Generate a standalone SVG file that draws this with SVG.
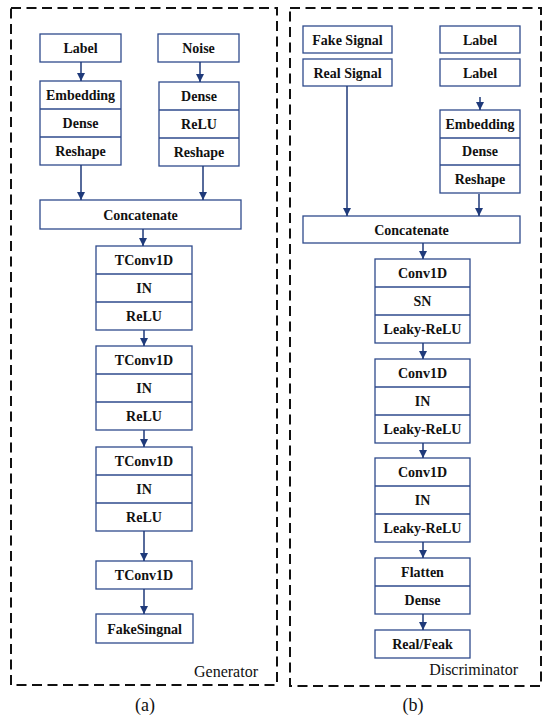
<svg xmlns="http://www.w3.org/2000/svg" width="550" height="719" viewBox="0 0 550 719">
<style>
.frame{fill:none;stroke:#111;stroke-width:2;stroke-dasharray:10 5.5}
.box{fill:#fff;stroke:#2e4a8c;stroke-width:1.3}
.div{stroke:#2e4a8c;stroke-width:1.3}
.t{font-family:"Liberation Serif","Times New Roman",serif;font-weight:bold;font-size:14px;text-anchor:middle;fill:#111}
.cap{font-family:"Liberation Serif","Times New Roman",serif;font-size:16px;fill:#111}
.sub{font-family:"Liberation Serif","Times New Roman",serif;font-size:18px;fill:#111;text-anchor:middle}
.conn line{stroke:#1f3a7a;stroke-width:1.5;marker-end:url(#ah)}
</style>
<defs>
<marker id="ah" viewBox="0 0 10 10" refX="10" refY="5" markerUnits="userSpaceOnUse" markerWidth="8" markerHeight="8" orient="auto">
<path d="M0,0 L10,5 L0,10 z" fill="#1f3a7a"/>
</marker>
</defs>
<rect rx="0" class="frame" x="11" y="8" width="266" height="677"/>
<rect class="frame" x="290" y="8" width="251" height="678"/>
<text class="cap" x="258" y="677" text-anchor="end">Generator</text>
<text class="cap" x="518" y="675" text-anchor="end">Discriminator</text>
<text class="sub" x="145" y="711">(a)</text>
<text class="sub" x="413" y="711">(b)</text>

<g id="g-label"><rect class="box" x="40" y="34" width="81" height="28"/><text class="t" x="80.5" y="53">Label</text></g>
<g id="g-noise"><rect class="box" x="158" y="34" width="81" height="28"/><text class="t" x="198.5" y="53">Noise</text></g>
<g id="g-emb"><rect class="box" x="40" y="81" width="81" height="84"/><line class="div" x1="40" y1="109" x2="121" y2="109"/><line class="div" x1="40" y1="137" x2="121" y2="137"/>
<text class="t" x="80.5" y="100">Embedding</text><text class="t" x="80.5" y="128">Dense</text><text class="t" x="80.5" y="156">Reshape</text></g>
<g id="g-noisestack"><rect class="box" x="159" y="82" width="80" height="84"/><line class="div" x1="159" y1="110" x2="239" y2="110"/><line class="div" x1="159" y1="138" x2="239" y2="138"/>
<text class="t" x="199" y="101">Dense</text><text class="t" x="199" y="129">ReLU</text><text class="t" x="199" y="157">Reshape</text></g>
<g id="g-concat"><rect class="box" x="40" y="200" width="201" height="29"/><text class="t" x="140.5" y="219.5">Concatenate</text></g>
<g id="g-t1"><rect class="box" x="96" y="246" width="96" height="84"/><line class="div" x1="96" y1="274" x2="192" y2="274"/><line class="div" x1="96" y1="302" x2="192" y2="302"/>
<text class="t" x="144" y="265">TConv1D</text><text class="t" x="144" y="293">IN</text><text class="t" x="144" y="321">ReLU</text></g>
<g id="g-t2"><rect class="box" x="96" y="346" width="96" height="84"/><line class="div" x1="96" y1="374" x2="192" y2="374"/><line class="div" x1="96" y1="402" x2="192" y2="402"/>
<text class="t" x="144" y="365">TConv1D</text><text class="t" x="144" y="393">IN</text><text class="t" x="144" y="421">ReLU</text></g>
<g id="g-t3"><rect class="box" x="96" y="447" width="96" height="84"/><line class="div" x1="96" y1="475" x2="192" y2="475"/><line class="div" x1="96" y1="503" x2="192" y2="503"/>
<text class="t" x="144" y="466">TConv1D</text><text class="t" x="144" y="494">IN</text><text class="t" x="144" y="522">ReLU</text></g>
<g id="g-t4"><rect class="box" x="96" y="561" width="96" height="28"/><text class="t" x="144" y="580">TConv1D</text></g>
<g id="g-fake"><rect class="box" x="96" y="614" width="97" height="29"/><text class="t" x="144.5" y="633.5">FakeSingnal</text></g>

<g id="d-fake"><rect class="box" x="303" y="26" width="89" height="27"/><text class="t" x="347.5" y="44.5">Fake Signal</text></g>
<g id="d-real"><rect class="box" x="303" y="59" width="89" height="27"/><text class="t" x="347.5" y="77.5">Real Signal</text></g>
<g id="d-label1"><rect class="box" x="440" y="26" width="80" height="27"/><text class="t" x="480" y="44.5">Label</text></g>
<g id="d-label2"><rect class="box" x="440" y="59" width="80" height="27"/><text class="t" x="480" y="77.5">Label</text></g>
<g id="d-emb"><rect class="box" x="440" y="110" width="80" height="83"/><line class="div" x1="440" y1="138" x2="520" y2="138"/><line class="div" x1="440" y1="165" x2="520" y2="165"/>
<text class="t" x="480" y="129">Embedding</text><text class="t" x="480" y="156">Dense</text><text class="t" x="480" y="184">Reshape</text></g>
<g id="d-concat"><rect class="box" x="303" y="216" width="217" height="27"/><text class="t" x="411.5" y="234.5">Concatenate</text></g>
<g id="d-c1"><rect class="box" x="375" y="259" width="95" height="84"/><line class="div" x1="375" y1="287" x2="470" y2="287"/><line class="div" x1="375" y1="315" x2="470" y2="315"/>
<text class="t" x="422.5" y="278">Conv1D</text><text class="t" x="422.5" y="306">SN</text><text class="t" x="422.5" y="334">Leaky-ReLU</text></g>
<g id="d-c2"><rect class="box" x="375" y="359" width="95" height="84"/><line class="div" x1="375" y1="387" x2="470" y2="387"/><line class="div" x1="375" y1="415" x2="470" y2="415"/>
<text class="t" x="422.5" y="378">Conv1D</text><text class="t" x="422.5" y="406">IN</text><text class="t" x="422.5" y="434">Leaky-ReLU</text></g>
<g id="d-c3"><rect class="box" x="375" y="458" width="95" height="84"/><line class="div" x1="375" y1="486" x2="470" y2="486"/><line class="div" x1="375" y1="514" x2="470" y2="514"/>
<text class="t" x="422.5" y="477">Conv1D</text><text class="t" x="422.5" y="505">IN</text><text class="t" x="422.5" y="533">Leaky-ReLU</text></g>
<g id="d-flat"><rect class="box" x="375" y="558" width="95" height="56"/><line class="div" x1="375" y1="586" x2="470" y2="586"/>
<text class="t" x="422.5" y="577">Flatten</text><text class="t" x="422.5" y="605">Dense</text></g>
<g id="d-out"><rect class="box" x="375" y="630" width="95" height="28"/><text class="t" x="422.5" y="649">Real/Feak</text></g>

<g id="connectors" class="conn">
<line x1="81" y1="62" x2="81" y2="81"/>
<line x1="200" y1="62" x2="200" y2="82"/>
<line x1="81" y1="165" x2="81" y2="200"/>
<line x1="203" y1="166" x2="203" y2="200"/>
<line x1="143" y1="229" x2="143" y2="246"/>
<line x1="144" y1="330" x2="144" y2="346"/>
<line x1="144" y1="430" x2="144" y2="447"/>
<line x1="144" y1="531" x2="144" y2="561"/>
<line x1="144" y1="589" x2="144" y2="614"/>
<line x1="347" y1="86" x2="347" y2="216"/>
<line x1="480" y1="97" x2="480" y2="110"/>
<line x1="479" y1="194" x2="479" y2="216"/>
<line x1="423" y1="243" x2="423" y2="259"/>
<line x1="423" y1="343" x2="423" y2="359"/>
<line x1="423" y1="443" x2="423" y2="458"/>
<line x1="423" y1="542" x2="423" y2="558"/>
<line x1="423" y1="614" x2="423" y2="630"/>
</g>
</svg>
